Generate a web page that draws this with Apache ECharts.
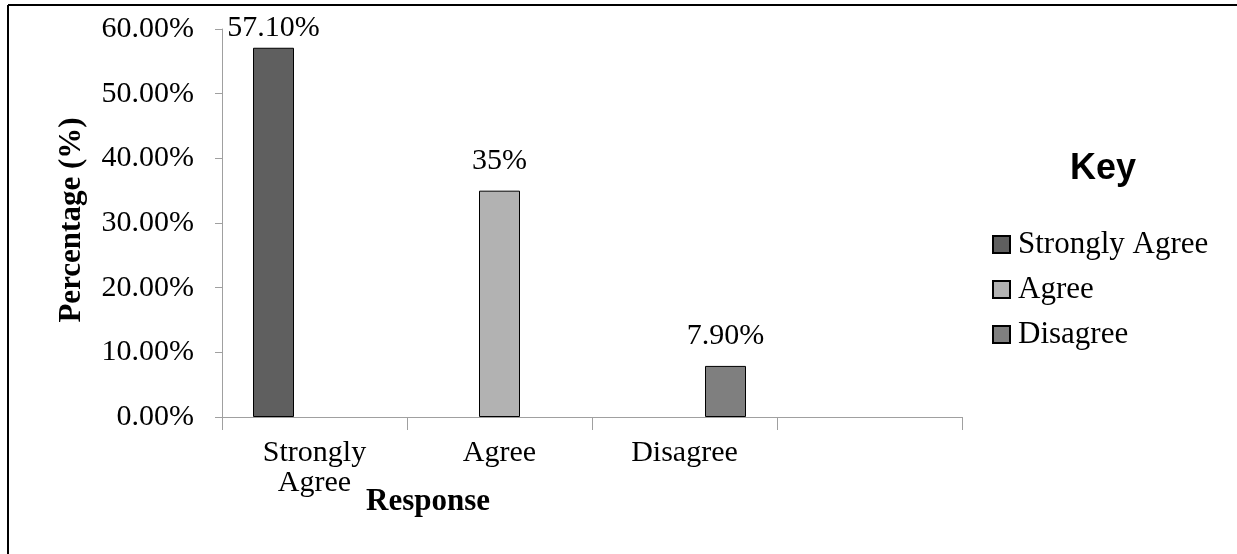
<!DOCTYPE html>
<html>
<head>
<meta charset="utf-8">
<script src="https://cdn.jsdelivr.net/npm/echarts@6/dist/echarts.min.js"></script>
<style>
html,body{margin:0;padding:0;background:#fff;}
#chart{width:1237px;height:554px;}
</style>
</head>
<body>
<div id="chart"></div>
<script>
const categories = ['Strongly Agree', 'Agree', 'Disagree', ''];
const seriesNames = ['Strongly Agree', 'Agree', 'Disagree'];
const stronglyAgree = [57.1, '-', '-', '-'];
const agree = ['-', 35, '-', '-'];
const disagree = ['-', '-', 7.9, '-'];
const labelTexts = ['57.10%', '35%', '7.90%'];
const yMin = 0, yMax = 60, yStep = 10;
const colors = ['#5f5f5f', '#b2b2b2', '#7f7f7f'];
const xTitle = 'Response';
const yTitle = 'Percentage (%)';
const keyTitle = 'Key';

const serif = 'Liberation Serif, Times New Roman, serif';
const chart = echarts.init(document.getElementById('chart'));
const values = [stronglyAgree, agree, disagree];
const labelDist = [5, 15, 15];

chart.setOption({
  animation: false,
  backgroundColor: '#fff',
  grid: { left: 222, top: 29, width: 740, height: 388, containLabel: false },
  legend: {
    orient: 'vertical',
    left: 992, top: 229,
    padding: 0,
    itemWidth: 17, itemHeight: 17, itemGap: 14,
    icon: 'rect',
    data: seriesNames,
    textStyle: { fontFamily: serif, fontSize: 31, color: '#000', lineHeight: 30, padding: [0, 0, 0, 3] }
  },
  xAxis: {
    type: 'category',
    data: categories,
    axisLine: { lineStyle: { color: '#a0a0a0', width: 1 } },
    axisTick: { show: true, length: 13, lineStyle: { color: '#a0a0a0' } },
    axisLabel: {
      fontFamily: serif, fontSize: 30, color: '#000', lineHeight: 30, margin: 21,
      interval: 0,
      formatter: v => v.replace(' ', '\n')
    },
    splitLine: { show: false }
  },
  yAxis: {
    type: 'value',
    min: yMin, max: yMax, interval: yStep,
    axisLine: { show: true, lineStyle: { color: '#a0a0a0', width: 1 } },
    axisTick: { show: true, length: 7, lineStyle: { color: '#a0a0a0' } },
    axisLabel: {
      fontFamily: serif, fontSize: 30, color: '#000', margin: 28,
      formatter: v => v.toFixed(2) + '%'
    },
    splitLine: { show: false }
  },
  series: seriesNames.map((name, i) => ({
    name: name,
    type: 'bar',
    data: values[i],
    barWidth: 41,
    barGap: '0%',
    itemStyle: { color: colors[i], borderColor: '#000', borderWidth: 1 },
    label: {
      show: true, position: 'top', distance: labelDist[i],
      fontFamily: serif, fontSize: 30, color: '#000', lineHeight: 30,
      formatter: () => labelTexts[i]
    }
  })),
  graphic: [
    { type: 'line', shape: { x1: 8, y1: 5, x2: 1237, y2: 5 }, style: { stroke: '#000', lineWidth: 2 } },
    { type: 'line', shape: { x1: 8, y1: 5, x2: 8, y2: 554 }, style: { stroke: '#000', lineWidth: 2 } },
    { type: 'text', x: 428, y: 502, style: { text: xTitle, font: 'bold 31px ' + serif, fill: '#000', align: 'center', verticalAlign: 'middle' } },
    { type: 'text', x: 72, y: 220, rotation: Math.PI / 2, style: { text: yTitle, font: 'bold 31px ' + serif, fill: '#000', align: 'center', verticalAlign: 'middle' } },
    { type: 'text', x: 1103, y: 169, style: { text: keyTitle, font: 'bold 36px Liberation Sans, Arial, sans-serif', fill: '#000', align: 'center', verticalAlign: 'middle' } }
  ]
});
</script>
</body>
</html>
